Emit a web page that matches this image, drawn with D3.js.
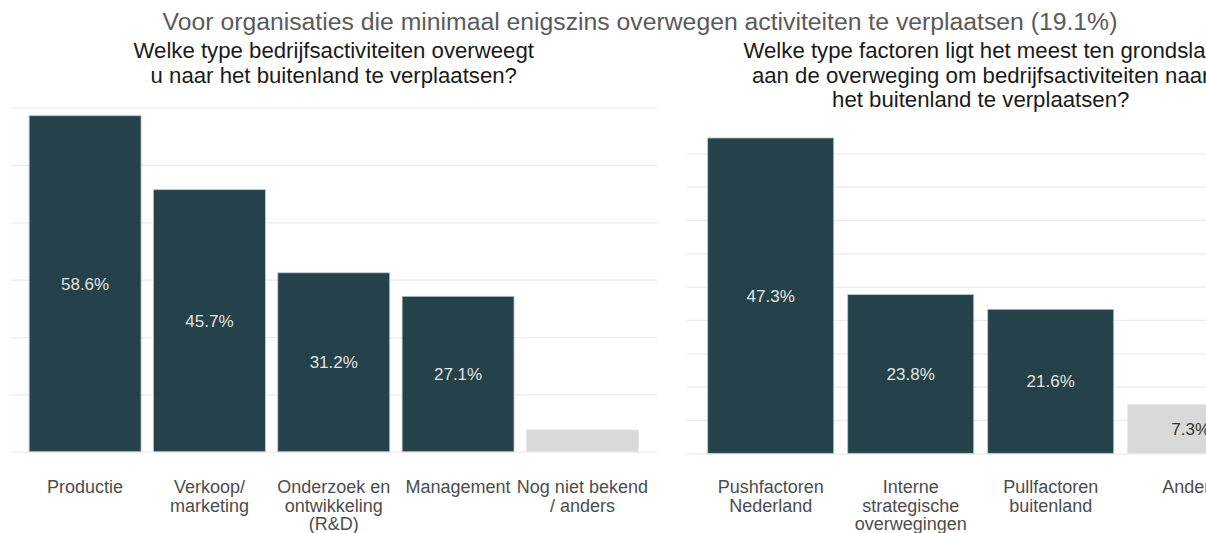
<!DOCTYPE html>
<html>
<head>
<meta charset="utf-8">
<script src="https://cdn.jsdelivr.net/npm/d3@7"></script>
<style>
  body { margin: 0; background: #fff; }
  svg { display: block; font-family: "Liberation Sans", Arial, sans-serif; }
</style>
</head>
<body>
<div id="chart"></div>
<script>
// data
var mainTitle = "Voor organisaties die minimaal enigszins overwegen activiteiten te verplaatsen (19.1%)";

var leftTitle = ["Welke type bedrijfsactiviteiten overweegt", "u naar het buitenland te verplaatsen?"];
var leftCats = [["Productie"], ["Verkoop/", "marketing"], ["Onderzoek en", "ontwikkeling", "(R&D)"], ["Management"], ["Nog niet bekend", "/ anders"]];
var leftValues = [58.6, 45.7, 31.2, 27.1, 3.8];
var leftOther = [false, false, false, false, true];
var leftTicks = [0, 10, 20, 30, 40, 50, 60];

var rightTitle = ["Welke type factoren ligt het meest ten grondslag", "aan de overweging om bedrijfsactiviteiten naar", "het buitenland te verplaatsen?"];
var rightCats = [["Pushfactoren", "Nederland"], ["Interne", "strategische", "overwegingen"], ["Pullfactoren", "buitenland"], ["Anders"]];
var rightValues = [47.3, 23.8, 21.6, 7.3];
var rightOther = [false, false, false, true];
var rightTicks = [0, 5, 10, 15, 20, 25, 30, 35, 40, 45];

function init(){
	var w = 1206;
	var h = 533;

	var svg = d3.select("#chart")
				.append("svg")
				.attr("width", w)
				.attr("height", h);

	svg.append("text")
		.attr("x", 640)
		.attr("y", 30)
		.attr("text-anchor", "middle")
		.style("font-size", "24.75px")
		.style("fill", "#5a5a5a")
		.text(mainTitle);

	drawPanel(svg, {
		x0: 10.5, x1: 657,
		y0: 451.7, y1: 107.7, yMax: 60,
		title: leftTitle, cats: leftCats, values: leftValues, other: leftOther, ticks: leftTicks
	});

	drawPanel(svg, {
		x0: 686.7, x1: 1274.7,
		y0: 453.3, y1: 153.3, yMax: 45,
		title: rightTitle, cats: rightCats, values: rightValues, other: rightOther, ticks: rightTicks
	});
}

function drawPanel(svg, p){
	var idx = d3.range(p.values.length);

	var x = d3.scaleBand()
				.domain(idx)
				.range([p.x0, p.x1])
				.paddingInner(0.1)
				.paddingOuter(0.15);

	var y = d3.scaleLinear()
				.domain([0, p.yMax])
				.range([p.y0, p.y1]);

	var g = svg.append("g");

	//gridlines
	var grid = g.append("g")
				.attr("transform", "translate(" + p.x0 + ",0)")
				.call(d3.axisLeft(y)
						.tickValues(p.ticks)
						.tickSize(-(p.x1 - p.x0))
						.tickFormat(""));
	grid.select(".domain").remove();
	grid.selectAll(".tick line")
		.attr("stroke", "#ebebeb")
		.attr("stroke-width", 1.2);

	//panel title
	var cx = (p.x0 + p.x1) / 2;
	g.append("text")
		.attr("text-anchor", "middle")
		.style("font-size", "22.2px")
		.style("fill", "#1a1a1a")
		.selectAll("tspan")
		.data(p.title)
		.enter()
		.append("tspan")
		.attr("x", cx)
		.attr("y", function(d, i){ return 58 + i * 24.5; })
		.text(function(d){ return d; });

	//bars
	g.selectAll("rect.bar")
		.data(idx)
		.enter()
		.append("rect")
		.attr("class", "bar")
		.attr("x", function(i){ return x(i); })
		.attr("width", x.bandwidth())
		.attr("y", function(i){ return y(p.values[i]); })
		.attr("height", function(i){ return y(0) - y(p.values[i]); })
		.attr("fill", function(i){ return p.other[i] ? "#d9d9d9" : "#25424a"; })
		.attr("stroke", function(i){ return p.other[i] ? "#e6e6e6" : "#b9c5c8"; })
		.attr("stroke-width", 0.8);

	//value labels (only when bar is tall enough)
	g.selectAll("text.val")
		.data(idx.filter(function(i){ return y(0) - y(p.values[i]) > 30; }))
		.enter()
		.append("text")
		.attr("class", "val")
		.attr("x", function(i){ return x(i) + x.bandwidth() / 2; })
		.attr("y", function(i){ return y(p.values[i] / 2); })
		.attr("dy", "0.36em")
		.attr("text-anchor", "middle")
		.style("font-size", "17px")
		.style("fill", function(i){ return p.other[i] ? "#333333" : "#e2e2e2"; })
		.text(function(i){ return d3.format(".1f")(p.values[i]) + "%"; });

	//category labels
	var labels = g.selectAll("text.cat")
		.data(idx)
		.enter()
		.append("text")
		.attr("class", "cat")
		.attr("text-anchor", "middle")
		.style("font-size", "18px")
		.style("fill", "#4d4d4d");

	labels.selectAll("tspan")
		.data(function(i){
			return p.cats[i].map(function(s, k){ return {s: s, k: k, i: i}; });
		})
		.enter()
		.append("tspan")
		.attr("x", function(d){ return x(d.i) + x.bandwidth() / 2; })
		.attr("y", function(d){ return 493 + d.k * 18.5; })
		.text(function(d){ return d.s; });
}

window.onload = init;
</script>
</body>
</html>
